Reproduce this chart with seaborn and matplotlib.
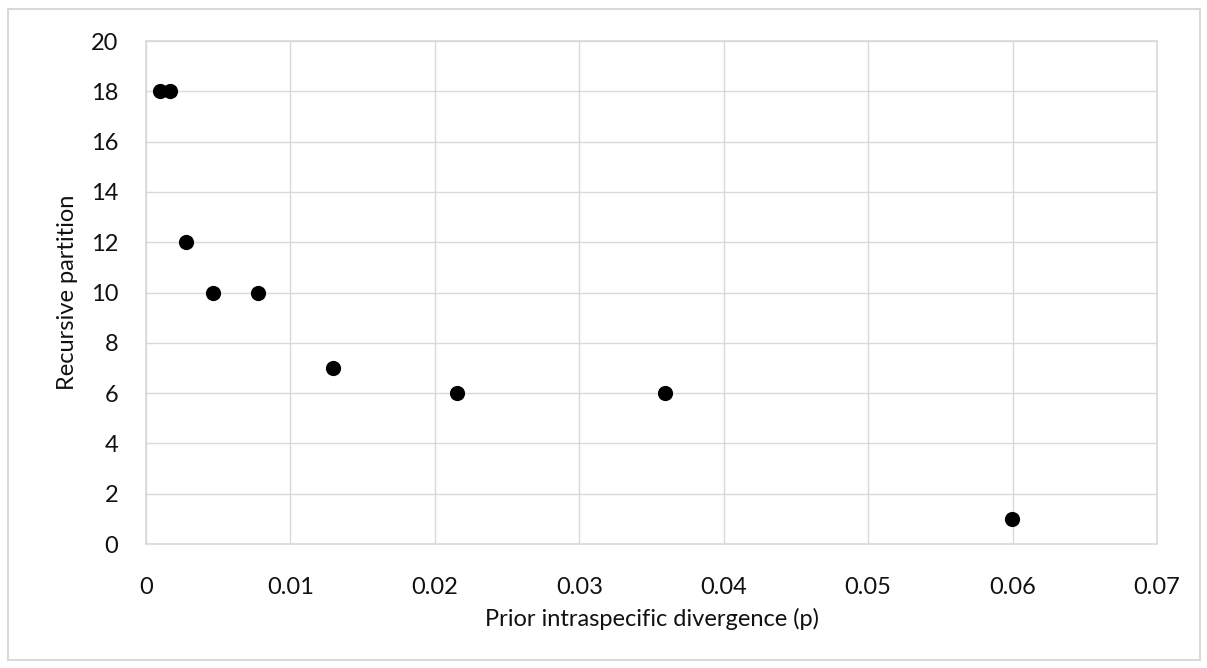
import pandas as pd
import matplotlib.pyplot as plt
import seaborn as sns
from matplotlib.patches import Rectangle

prior = [0.001, 0.001668, 0.002783, 0.004642, 0.007743, 0.012915, 0.021544, 0.035938, 0.059948]
partition = [18, 18, 12, 10, 10, 7, 6, 6, 1]

df = pd.DataFrame({"prior": prior, "partition": partition})

sns.set_style("white")
plt.rcParams['font.family'] = ['Lato', 'DejaVu Sans']

fig = plt.figure(figsize=(12.07, 6.68), dpi=100)
ax = fig.add_axes([0.121, 0.1856, 0.8376, 0.753])

sns.scatterplot(data=df, x="prior", y="partition", color="black", s=120,
                edgecolor="black", linewidth=0, ax=ax, zorder=3)

ax.set_xlim(0, 0.07)
ax.set_ylim(0, 20)
ax.set_xticks([0, 0.01, 0.02, 0.03, 0.04, 0.05, 0.06, 0.07])
ax.set_xticklabels(["0", "0.01", "0.02", "0.03", "0.04", "0.05", "0.06", "0.07"])
ax.set_yticks(range(0, 21, 2))
ax.grid(True, color="#d9d9d9", linewidth=1)
for sp in ax.spines.values():
    sp.set_color("#d9d9d9")
    sp.set_linewidth(1.2)
ax.tick_params(axis="both", length=0, labelsize=17, colors="#111111")
ax.tick_params(axis="x", pad=24)
ax.tick_params(axis="y", pad=20)

ax.set_xlabel("Prior intraspecific divergence (p)", fontsize=17, color="#111111", labelpad=7)
ax.set_ylabel("Recursive partition", fontsize=17, color="#111111", labelpad=9)

fig.patches.append(Rectangle((8 / 1207, 8 / 668), 1192 / 1207, 651 / 668,
                             transform=fig.transFigure, fill=False,
                             edgecolor="#d9d9d9", linewidth=1.5))

fig.savefig("out.png", dpi=100)
